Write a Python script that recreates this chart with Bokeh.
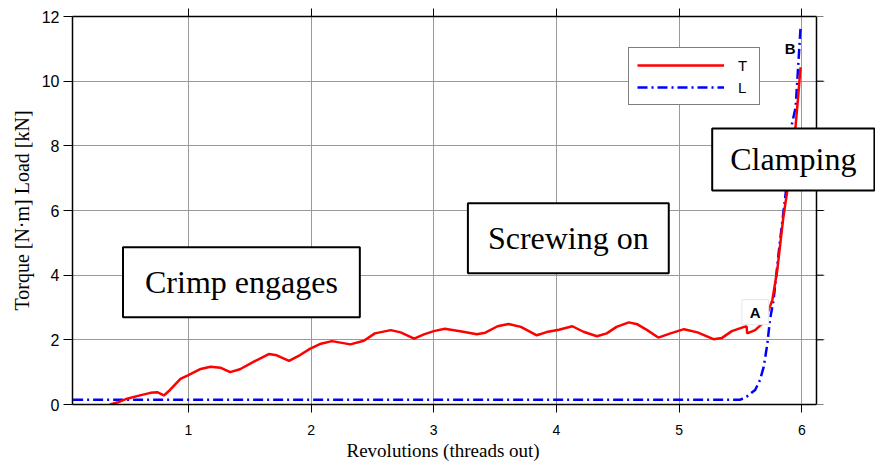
from bokeh.plotting import figure
from bokeh.models import (Range1d, LinearAxis, Legend, LegendItem, Label,
                          FixedTicker, BoxAnnotation, Span, Title)
from bokeh.embed import file_html
from bokeh.resources import INLINE

# Torque curve T (N·m) against revolutions
T_rev = [0.36, 0.42, 0.50, 0.58, 0.69, 0.745, 0.80, 0.85, 0.935, 1.00, 1.10,
         1.18, 1.26, 1.34, 1.42, 1.53, 1.655, 1.72, 1.82, 1.91, 1.99, 2.08,
         2.17, 2.32, 2.43, 2.52, 2.65, 2.73, 2.84, 2.92, 3.00, 3.09, 3.24,
         3.35, 3.42, 3.52, 3.61, 3.71, 3.84, 3.92, 4.02, 4.13, 4.22, 4.33,
         4.41, 4.49, 4.59, 4.66, 4.74, 4.83, 4.93, 5.04, 5.15, 5.28, 5.35,
         5.43, 5.53, 5.55, 5.555, 5.62, 5.68, 5.72, 5.76, 5.80, 5.85, 5.88,
         5.92, 5.95, 5.97, 5.99]
T_val = [0.0, 0.06, 0.18, 0.26, 0.36, 0.38, 0.28, 0.45, 0.79, 0.91, 1.10,
         1.17, 1.14, 1.00, 1.09, 1.32, 1.56, 1.52, 1.35, 1.53, 1.72, 1.88,
         1.96, 1.86, 1.97, 2.20, 2.30, 2.23, 2.04, 2.17, 2.27, 2.34, 2.25,
         2.17, 2.22, 2.42, 2.49, 2.40, 2.14, 2.24, 2.31, 2.42, 2.25, 2.11,
         2.20, 2.40, 2.54, 2.48, 2.30, 2.07, 2.20, 2.33, 2.23, 2.02, 2.06,
         2.27, 2.40, 2.42, 2.20, 2.30, 2.51, 2.82, 3.23, 4.15, 5.80, 6.56,
         7.60, 8.63, 9.50, 10.43]

# Load curve L (kN) against revolutions
L_rev = [0.06, 5.50, 5.55, 5.62, 5.66, 5.69, 5.72, 5.74, 5.77, 5.82, 5.87,
         5.92, 5.95, 5.96, 5.99]
L_val = [0.15, 0.15, 0.24, 0.45, 0.76, 1.17, 1.89, 2.61, 3.23, 4.98, 6.57,
         8.68, 9.19, 9.81, 11.65]

x_ticks = [1, 2, 3, 4, 5, 6]
y_ticks = [0, 2, 4, 6, 8, 10, 12]

# axes box in data units; the canvas continues past X_MAX so the
# "Clamping" note can hang over the right-hand border
X_MIN, X_MAX = 0.055, 6.12
X_VIEW_END = 6.601
TICK_PAD = 0.065  # room for the right-hand tick marks

SANS = "Liberation Sans"
SERIF = "Liberation Serif"

p = figure(width=875, height=464, output_backend="svg", toolbar_location=None,
           x_range=Range1d(X_MIN, X_VIEW_END), y_range=Range1d(0, 12),
           min_border_left=72, min_border_right=0, min_border_top=16,
           min_border_bottom=60)
p.background_fill_color = "white"
p.border_fill_color = "white"
p.outline_line_color = None

# grid
p.xgrid.ticker = FixedTicker(ticks=x_ticks)
p.ygrid.ticker = FixedTicker(ticks=y_ticks)
for g in (p.xgrid, p.ygrid):
    g.grid_line_color = "#9a9a9a"
    g.grid_line_width = 1

# bottom axis
xa = p.xaxis[0]
xa.ticker = FixedTicker(ticks=x_ticks)
xa.bounds = (X_MIN, X_MAX)
xa.major_label_text_font = SANS
xa.major_label_text_font_size = "14px"
xa.major_label_text_color = "black"
xa.major_label_standoff = 12
xa.major_tick_out = 8
xa.major_tick_in = 0
xa.minor_tick_line_color = None
xa.axis_line_color = "black"
xa.axis_line_width = 1.5
xa.major_tick_line_color = "black"

# x title, centred under the axes box rather than the whole canvas
p.add_layout(Title(text="Revolutions (threads out)", align="left", offset=274,
                   text_font=SERIF, text_font_size="19px",
                   text_font_style="normal", text_color="black",
                   standoff=0), "below")

# left axis
ya = p.yaxis[0]
ya.ticker = FixedTicker(ticks=y_ticks)
ya.axis_label = "Torque [N·m] Load [kN]"
ya.axis_label_text_font = SERIF
ya.axis_label_text_font_size = "20px"
ya.axis_label_text_font_style = "normal"
ya.axis_label_text_color = "black"
ya.axis_label_standoff = 6
ya.major_label_text_font = SANS
ya.major_label_text_font_size = "16px"
ya.major_label_text_color = "black"
ya.major_label_standoff = 4
ya.major_tick_out = 9
ya.major_tick_in = 0
ya.minor_tick_line_color = None
ya.axis_line_color = "black"
ya.axis_line_width = 1.5
ya.major_tick_line_color = "black"

# mirrored tick marks along the top, labels not painted
top = LinearAxis(ticker=FixedTicker(ticks=x_ticks), bounds=(X_MIN, X_MAX),
                 major_label_text_font_size="1px", major_label_text_color=None,
                 major_label_standoff=0, major_tick_out=8, major_tick_in=0,
                 minor_tick_line_color=None, axis_line_color="black",
                 axis_line_width=1.5, major_tick_line_color="black")
p.add_layout(top, "above")

# right-hand border and its tick marks
p.ray(x=[X_MAX] * len(y_ticks), y=y_ticks, length=7, length_units="screen",
      angle=0, line_color="black", line_width=1)
# blank out the grid beyond the tick marks
p.add_layout(BoxAnnotation(left=X_MAX + TICK_PAD, fill_color="white",
                           fill_alpha=1, line_color=None))
p.add_layout(Span(location=X_MAX, dimension="height", line_color="black",
                  line_width=1.5))

# curves
rL = p.line(L_rev, L_val, line_color="blue", line_width=2.5, line_dash="10 4 2 4")
rT = p.line(T_rev, T_val, line_color="red", line_width=2.5)

legend = Legend(items=[LegendItem(label="T", renderers=[rT]),
                       LegendItem(label="L", renderers=[rL])],
                location=(556, 299), orientation="vertical",
                border_line_color="black", border_line_width=1,
                background_fill_color="white", background_fill_alpha=1,
                label_text_font=SANS, label_text_font_size="15px",
                label_text_color="black",
                glyph_width=87, glyph_height=18, label_height=18, label_width=13,
                label_standoff=14, padding=8, spacing=4, margin=0)
p.add_layout(legend)

# phase annotations
BOX_STYLE = dict(text_align="center", text_baseline="middle", text_font=SERIF,
                 text_font_size="32px", text_color="black",
                 border_line_color="black", border_line_width=2,
                 background_fill_color="white", background_fill_alpha=1)

p.add_layout(Label(x=1.432, y=3.78, text="Crimp engages", padding=(22, 17), **BOX_STYLE))
p.add_layout(Label(x=4.097, y=5.14, text="Screwing on", padding=(20, 17), **BOX_STYLE))
p.add_layout(Label(x=5.931, y=7.58, text="Clamping", padding=(18, 13), **BOX_STYLE))

# points A and B
p.add_layout(Label(x=5.621, y=2.855, text="A", text_align="center",
                   text_baseline="middle", text_font=SANS, text_font_size="15px",
                   text_font_style="bold", text_color="black",
                   border_line_color="#e6e6e6", border_line_width=1,
                   background_fill_color="white", background_fill_alpha=1,
                   padding=(8, 4)))
p.add_layout(Label(x=5.906, y=11.0, text="B", text_align="center",
                   text_baseline="middle", text_font=SANS, text_font_size="15px",
                   text_font_style="bold", text_color="black"))

open("out.html", "w").write(file_html(p, INLINE))
